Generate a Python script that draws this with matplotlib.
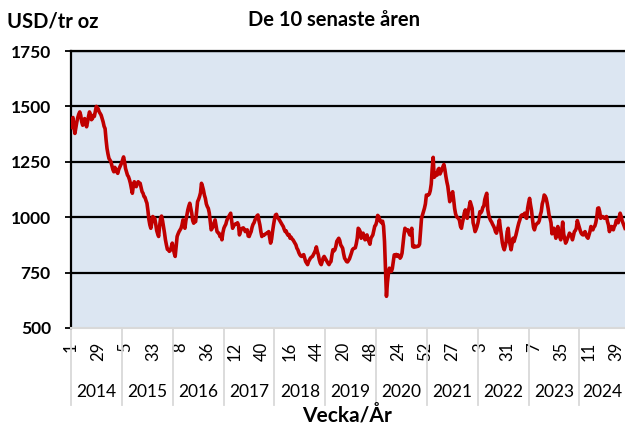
import matplotlib
matplotlib.use("Agg")
import matplotlib.pyplot as plt
from matplotlib import transforms

plt.rcParams["font.family"] = ["Lato", "DejaVu Sans"]

years = [2014, 2015, 2016, 2017, 2018, 2019, 2020, 2021, 2022, 2023, 2024]
weeks_in_year = [52, 53, 52, 52, 52, 52, 53, 52, 52, 52, 48]

# weekly price, USD/tr oz
y2014 = [1405, 1440, 1450, 1410, 1378, 1405, 1430, 1450, 1465, 1475,
         1460, 1430, 1415, 1432, 1445, 1425, 1408, 1430, 1455, 1475,
         1462, 1440, 1445, 1460, 1455, 1478, 1500, 1495, 1488, 1475,
         1468, 1460, 1445, 1430, 1410, 1400, 1350, 1310, 1285, 1265,
         1258, 1250, 1232, 1215, 1205, 1225, 1215, 1205, 1198, 1215,
         1225, 1235]
y2015 = [1245, 1258, 1272, 1250, 1220, 1205, 1190, 1183, 1170, 1153,
         1130, 1108, 1140, 1160, 1145, 1138, 1150, 1160, 1155, 1153,
         1135, 1115, 1108, 1093, 1090, 1075, 1063, 1030, 990, 965,
         950, 975, 1003, 998, 995, 970, 940, 925, 913, 960,
         995, 1005, 985, 958, 930, 898, 875, 855, 853, 846,
         850, 865, 883]
y2016 = [860, 838, 823, 870, 913, 925, 935, 943, 950, 965,
         988, 970, 950, 985, 1010, 1033, 1050, 1063, 1040, 1018,
         985, 973, 985, 980, 1025, 1070, 1080, 1093, 1110, 1153,
         1140, 1123, 1100, 1085, 1060, 1048, 1040, 1020, 980, 943,
         950, 958, 975, 988, 960, 935, 930, 928, 913, 920,
         898, 930]
y2017 = [950, 960, 968, 985, 995, 1003, 1012, 1018, 985, 950,
         962, 965, 970, 968, 975, 965, 920, 935, 948, 950,
         952, 945, 935, 940, 943, 915, 913, 925, 935, 955,
         968, 975, 988, 995, 1006, 1010, 985, 965, 935, 913,
         920, 918, 922, 925, 928, 928, 935, 910, 883, 900,
         935, 965]
y2018 = [990, 1010, 1013, 1000, 995, 988, 980, 973, 965, 958,
         945, 935, 938, 925, 918, 922, 905, 910, 902, 898,
         890, 883, 875, 860, 853, 840, 831, 825, 823, 828,
         831, 815, 800, 793, 786, 800, 808, 816, 820, 823,
         831, 840, 850, 866, 845, 831, 808, 793, 786, 800,
         816, 823]
y2019 = [815, 808, 800, 792, 786, 795, 800, 830, 853, 848,
         853, 868, 891, 898, 905, 895, 875, 868, 860, 835,
         815, 808, 800, 798, 805, 812, 825, 838, 853, 858,
         860, 862, 880, 905, 950, 945, 935, 905, 918, 928,
         915, 898, 910, 920, 900, 890, 878, 905, 913, 920,
         940, 960]
y2020 = [965, 980, 1008, 1003, 990, 980, 975, 982, 960, 890,
         770, 643, 705, 745, 770, 760, 755, 768, 800, 830,
         828, 832, 823, 830, 825, 815, 822, 838, 880, 920,
         950, 945, 940, 943, 930, 920, 935, 950, 868, 865,
         870, 866, 868, 868, 870, 878, 940, 995, 1010, 1025,
         1040, 1060, 1100]
y2021 = [1098, 1100, 1105, 1120, 1150, 1220, 1270, 1180, 1185, 1200,
         1190, 1215, 1220, 1195, 1205, 1215, 1228, 1238, 1215, 1185,
         1160, 1140, 1105, 1070, 1090, 1105, 1115, 1080, 1040, 1015,
         1003, 998, 995, 985, 960, 950, 975, 995, 1020, 1033,
         1005, 995, 1030, 1045, 1070, 1055, 1040, 975, 958, 935,
         945, 958]
y2022 = [975, 1000, 1025, 1020, 1028, 1045, 1050, 1080, 1095, 1108,
         1035, 1010, 995, 985, 978, 968, 960, 950, 935, 928,
         945, 965, 988, 950, 920, 885, 865, 853, 870, 890,
         935, 950, 900, 875, 853, 880, 905, 890, 905, 920,
         940, 958, 975, 988, 1005, 1010, 1008, 1012, 1018, 1000,
         995, 1040]
y2023 = [1065, 1085, 1055, 1030, 990, 955, 943, 960, 968, 973,
         975, 985, 1010, 1025, 1060, 1075, 1100, 1095, 1085, 1065,
         1040, 1010, 995, 975, 925, 945, 950, 930, 905, 935,
         958, 925, 910, 898, 940, 978, 925, 905, 883, 892,
         905, 915, 928, 922, 918, 898, 915, 935, 940, 950,
         985, 970]
y2024 = [955, 940, 928, 922, 920, 930, 935, 918, 910, 905,
         920, 935, 958, 950, 943, 955, 960, 975, 1000, 1040,
         1042, 1025, 995, 1000, 1003, 998, 995, 1000, 1003, 980,
         965, 935, 950, 958, 948, 943, 958, 965, 985, 988,
         975, 1000, 1018, 1005, 985, 973, 960, 950]

prices = y2014 + y2015 + y2016 + y2017 + y2018 + y2019 + y2020 + y2021 + y2022 + y2023 + y2024
week_no = [w for n in weeks_in_year for w in range(1, n + 1)]
n = len(prices)

fig = plt.figure(figsize=(6.25, 4.3), dpi=100)
ax = fig.add_axes([71 / 625, 102 / 430, 554 / 625, 277 / 430])
ax.set_facecolor("#DCE6F2")

ax.plot(range(n), prices, color="#C00000", lw=2.6, zorder=3, solid_joinstyle="round")
ax.set_xlim(0, n - 1)
ax.set_ylim(500, 1750)

ax.set_yticks(range(500, 1751, 250))
for v in range(750, 1751, 250):
    ax.axhline(v, color="black", lw=1.6, zorder=2)

ax.spines["right"].set_visible(False)
ax.spines["top"].set_color("black")
ax.spines["top"].set_linewidth(1.6)
ax.spines["left"].set_color("black")
ax.spines["left"].set_linewidth(1.6)
ax.spines["bottom"].set_color("#D9D9D9")
ax.spines["bottom"].set_linewidth(1.5)

ax.tick_params(axis="y", length=4.5, width=1.3, pad=10, labelsize=12.5)
for lbl in ax.get_yticklabels():
    lbl.set_fontweight("bold")

xt = list(range(0, n, 28))
ax.set_xticks(xt)
ax.set_xticklabels([str(week_no[i]) for i in xt], rotation=90, fontsize=12)
ax.tick_params(axis="x", length=0, pad=10)

# year row with separators
trans = transforms.blended_transform_factory(ax.transData, fig.transFigure)
starts = [sum(weeks_in_year[:i]) for i in range(len(years))]
ends = starts[1:] + [n - 1]
for s in starts:
    ax.plot([s, s], [1 - 328 / 430, 1 - 405 / 430], transform=trans,
            color="#D9D9D9", lw=1.3, clip_on=False)
for yr, s, e in zip(years, starts, ends):
    ax.text((s + e) / 2, 1 - 392 / 430, str(yr), transform=trans,
            ha="center", va="center", fontsize=12.5)

fig.text(7 / 625, 1 - 22 / 430, "USD/tr oz", fontweight="bold", fontsize=14.5,
         ha="left", va="center")
fig.text(334 / 625, 1 - 20 / 430, "De 10 senaste åren", fontweight="bold",
         fontsize=14.5, ha="center", va="center")
fig.text(347 / 625, 1 - 415 / 430, "Vecka/År", fontweight="bold", fontsize=15,
         ha="center", va="center")

fig.savefig("out.png", dpi=100)
